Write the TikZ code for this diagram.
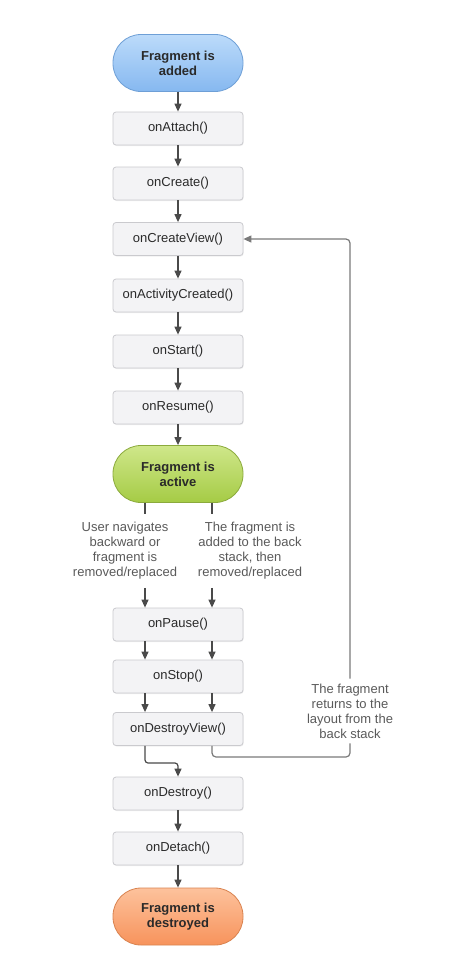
\documentclass[tikz,border=0pt]{standalone}
\usepackage{fontspec}
\setmainfont{Liberation Sans}
\usetikzlibrary{arrows.meta,shadows}
\definecolor{boxfill}{HTML}{F3F3F5}
\definecolor{boxdraw}{HTML}{CACACE}
\definecolor{boxtext}{HTML}{2A2A2A}
\definecolor{notetext}{HTML}{5A5A5A}
\definecolor{arrcol}{HTML}{4A4A4A}
\definecolor{loopcol}{HTML}{7A7A7A}
\definecolor{bluetop}{HTML}{BCDBFA}
\definecolor{bluebot}{HTML}{86B8F0}
\definecolor{bluedraw}{HTML}{6E9FD6}
\definecolor{greentop}{HTML}{CFE78A}
\definecolor{greenbot}{HTML}{A5CB45}
\definecolor{greendraw}{HTML}{8BAA3C}
\definecolor{orangetop}{HTML}{FDC29C}
\definecolor{orangebot}{HTML}{F7935C}
\definecolor{orangedraw}{HTML}{D98350}
\begin{document}
\begin{tikzpicture}[x=1pt,y=-1pt,
  box/.style={draw=boxdraw, fill=boxfill, line width=0.8pt, rounded corners=3pt,
    minimum width=130pt, minimum height=33pt, inner sep=0pt,
    font=\fontsize{13}{15}\selectfont, text=boxtext,
    drop shadow={opacity=0.12, shadow xshift=0.6pt, shadow yshift=-1pt}},
  pill/.style={line width=0.8pt, rounded corners=28pt,
    minimum width=130pt, minimum height=57pt, inner sep=0pt, align=center,
    font=\fontsize{13}{15}\selectfont\bfseries, text=boxtext},
  bluepill/.style={pill, draw=bluedraw, top color=bluetop, bottom color=bluebot},
  greenpill/.style={pill, draw=greendraw, top color=greentop, bottom color=greenbot},
  orangepill/.style={pill, draw=orangedraw, top color=orangetop, bottom color=orangebot},
  note/.style={align=center, font=\fontsize{13}{15}\selectfont, text=notetext, inner sep=3pt},
  snote/.style={note, inner sep=8pt},
  bnote/.style={note, fill=white, inner sep=5pt},
  arr/.style={draw=arrcol, line width=1.2pt, -{Triangle[width=7pt,length=8pt]}},
  plain/.style={draw=arrcol, line width=1.2pt},
  loopline/.style={draw=loopcol, line width=1.2pt, rounded corners=4pt},
]
\useasboundingbox (0,0) rectangle (453,959);
\fill[white] (0,0) rectangle (453,959);

\coordinate (xl) at (145,0);
\coordinate (xr) at (212,0);

\node[bluepill] (added) at (178,63) {Fragment is\\added};
\node[box] (attach) at (178,128.5) {onAttach()};
\node[box] (create) at (178,183.5) {onCreate()};
\node[box] (cview) at (178,239) {onCreateView()};
\node[box] (acreated) at (178,295.5) {onActivityCreated()};
\node[box] (start) at (178,351.5) {onStart()};
\node[box] (resume) at (178,407.5) {onResume()};
\node[greenpill] (active) at (178,474) {Fragment is\\active};
\node[snote] (lnote) at (125,551) {User navigates\\backward or\\fragment is\\removed/replaced};
\node[snote] (rnote) at (250,551) {The fragment is\\added to the back\\stack, then\\removed/replaced};
\node[box] (pause) at (178,624.5) {onPause()};
\node[box] (stop) at (178,676.5) {onStop()};
\node[box] (dview) at (178,729) {onDestroyView()};
\node[box] (destroy) at (178,793.5) {onDestroy()};
\node[box] (detach) at (178,848.5) {onDetach()};
\node[orangepill] (destroyed) at (178,916.5) {Fragment is\\destroyed};
\node[bnote] (bnote) at (350,711) {The fragment\\returns to the\\layout from the\\back stack};

\coordinate (jl) at (178,763);
\coordinate (jr) at (350,757);

\draw[arr] (added) -- (attach);
\draw[arr] (attach) -- (create);
\draw[arr] (create) -- (cview);
\draw[arr] (cview) -- (acreated);
\draw[arr] (acreated) -- (start);
\draw[arr] (start) -- (resume);
\draw[arr] (resume) -- (active);

\draw[plain] (active.south -| xl) -- (lnote.north -| xl);
\draw[plain] (active.south -| xr) -- (rnote.north -| xr);
\draw[arr] (lnote.south -| xl) -- (pause.north -| xl);
\draw[arr] (rnote.south -| xr) -- (pause.north -| xr);
\draw[arr] (pause.south -| xl) -- (stop.north -| xl);
\draw[arr] (pause.south -| xr) -- (stop.north -| xr);
\draw[arr] (stop.south -| xl) -- (dview.north -| xl);
\draw[arr] (stop.south -| xr) -- (dview.north -| xr);

\draw[arr, rounded corners=3pt] (dview.south -| xl) |- (jl) -- (destroy.north);
\draw[loopline] (dview.south -| xr) |- (jr) -- (bnote.south);
\draw[loopline, -{Triangle[width=7pt,length=8pt]}] (bnote.north) |- (cview.east);

\draw[arr] (destroy) -- (detach);
\draw[arr] (detach) -- (destroyed);
\end{tikzpicture}
\end{document}
